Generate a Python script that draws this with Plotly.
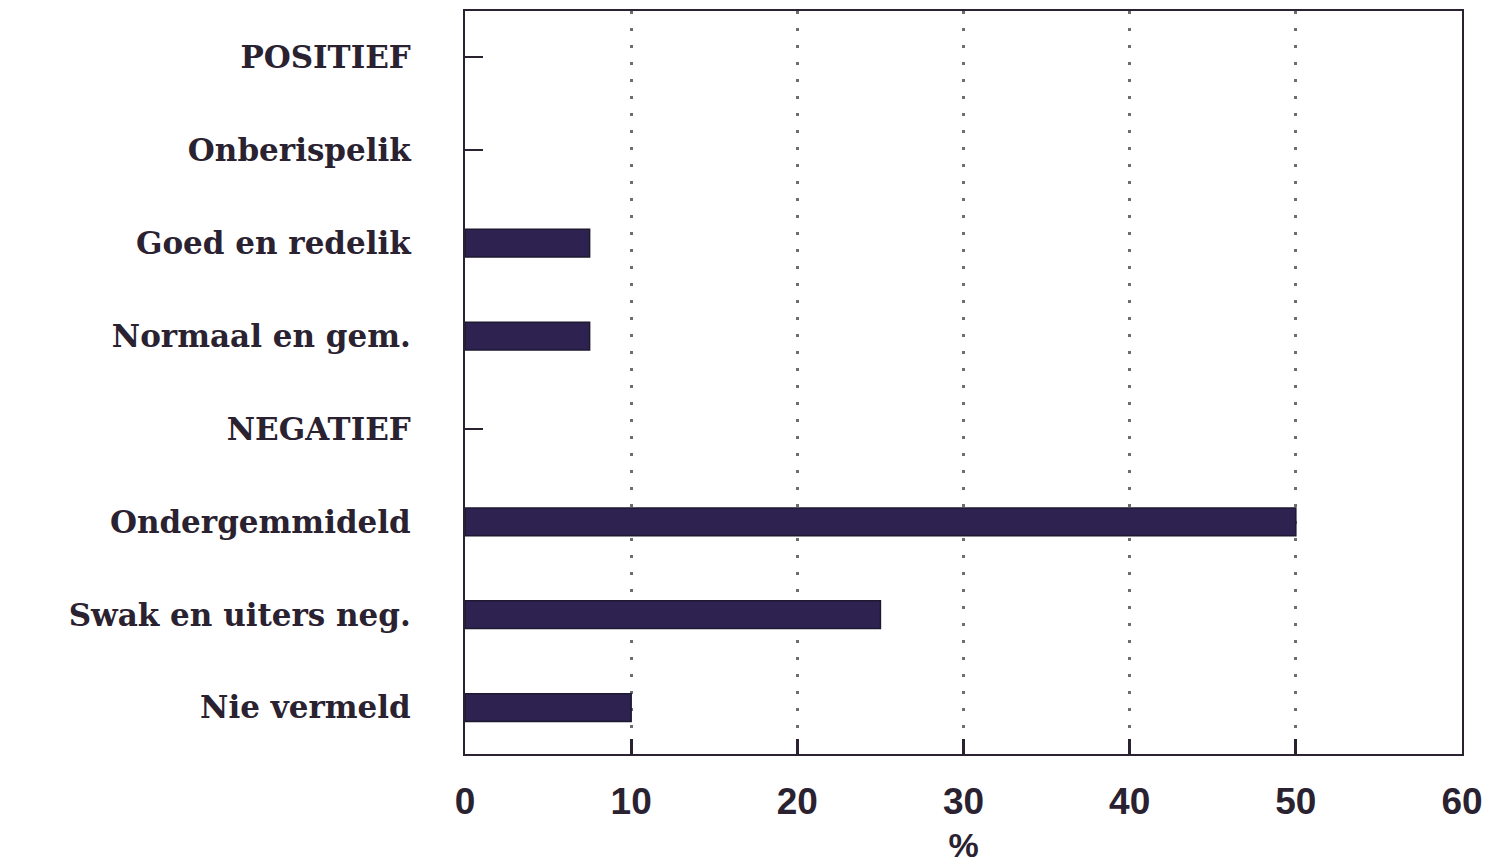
import plotly.graph_objects as go

categories = ["POSITIEF", "Onberispelik", "Goed en redelik", "Normaal en gem.",
              "NEGATIEF", "Ondergemmideld", "Swak en uiters neg.", "Nie vermeld"]
values = [None, None, 7.5, 7.5, None, 50, 25, 10]
x_ticks = [0, 10, 20, 30, 40, 50, 60]

SERIF = "DejaVu Serif"
SANS = "Liberation Sans"
INK = "#2a2230"

fig = go.Figure()
fig.add_trace(go.Bar(
    y=categories, x=values, orientation="h", width=0.3,
    marker=dict(color="#2e2350", line=dict(color="#1e1830", width=1.5)),
))

fig.update_layout(
    width=1483, height=860,
    margin=dict(l=457, r=29, t=1, b=114),
    paper_bgcolor="white", plot_bgcolor="white",
    showlegend=False,
    font=dict(family=SERIF, color=INK, size=30),
)
fig.update_xaxes(
    range=[0, 60], tickvals=x_ticks, ticktext=[str(v) for v in x_ticks],
    showgrid=True, gridcolor="#6e6e6e", griddash="3px,14px", gridwidth=3,
    ticks="inside", ticklen=15, tickwidth=3, tickcolor=INK,
    showline=True, linecolor=INK, linewidth=2, mirror=True,
    tickfont=dict(family=SANS, size=37, color=INK, weight="bold"),
    ticklabelstandoff=14,
    title=dict(text="%", font=dict(family=SANS, size=34, color=INK, weight="bold"), standoff=12),
    zeroline=False,
)
fig.update_yaxes(
    categoryorder="array", categoryarray=categories, autorange="reversed",
    ticks="inside", ticklen=18, tickwidth=2, tickcolor=INK,
    showline=True, linecolor=INK, linewidth=2, mirror=True,
    showgrid=False, layer="below traces",
    tickfont=dict(family=SERIF, size=31, color=INK, weight="bold"),
    ticklabelstandoff=46,
)

fig.write_html("out.html")
